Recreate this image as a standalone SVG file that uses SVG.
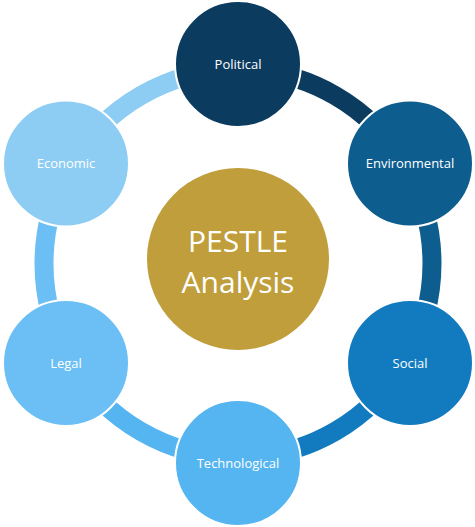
<svg xmlns="http://www.w3.org/2000/svg" width="475" height="527" viewBox="0 0 475 527">
  <style>
    .arc { fill: none; stroke-width: 19; }
    .node { stroke: #ffffff; stroke-width: 2; }
    .lbl { font-family: "Open Sans", "Liberation Sans", sans-serif; font-size: 13px; fill: #ffffff; text-anchor: middle; }
    .big { font-family: "Open Sans", "Liberation Sans", sans-serif; font-size: 30px; fill: #ffffff; text-anchor: middle; }
  </style>
  <rect width="475" height="527" fill="#ffffff"/>
  <g id="connectors">
    <path class="arc" stroke="#0b3b5f" d="M238,69.5 A194,194 0 0 1 406,166.5"/>
    <path class="arc" stroke="#0d5d8e" d="M406,166.5 A194,194 0 0 1 406,360.5"/>
    <path class="arc" stroke="#127bbf" d="M406,360.5 A194,194 0 0 1 238,457.5"/>
    <path class="arc" stroke="#55b5f1" d="M238,457.5 A194,194 0 0 1 70,360.5"/>
    <path class="arc" stroke="#6bbff4" d="M70,360.5 A194,194 0 0 1 70,166.5"/>
    <path class="arc" stroke="#8dcdf4" d="M70,166.5 A194,194 0 0 1 238,69.5"/>
  </g>
  <g id="center">
    <circle cx="238" cy="259" r="91" fill="#bf9e3b"/>
    <text class="big" x="238" y="252">PESTLE</text>
    <text class="big" x="238" y="293">Analysis</text>
  </g>
  <g id="political">
    <circle class="node" cx="238" cy="64" r="63" fill="#0b3b5f"/>
    <text class="lbl" x="238" y="68.5">Political</text>
  </g>
  <g id="environmental">
    <circle class="node" cx="410" cy="163.5" r="63" fill="#0d5d8e"/>
    <text class="lbl" x="410" y="168">Environmental</text>
  </g>
  <g id="social">
    <circle class="node" cx="410" cy="363" r="63" fill="#127bbf"/>
    <text class="lbl" x="410" y="367.5">Social</text>
  </g>
  <g id="technological">
    <circle class="node" cx="238" cy="463" r="63" fill="#55b5f1"/>
    <text class="lbl" x="238" y="467.5">Technological</text>
  </g>
  <g id="legal">
    <circle class="node" cx="66" cy="363" r="63" fill="#6bbff4"/>
    <text class="lbl" x="66" y="367.5">Legal</text>
  </g>
  <g id="economic">
    <circle class="node" cx="66" cy="163.5" r="63" fill="#8dcdf4"/>
    <text class="lbl" x="66" y="168">Economic</text>
  </g>
</svg>
